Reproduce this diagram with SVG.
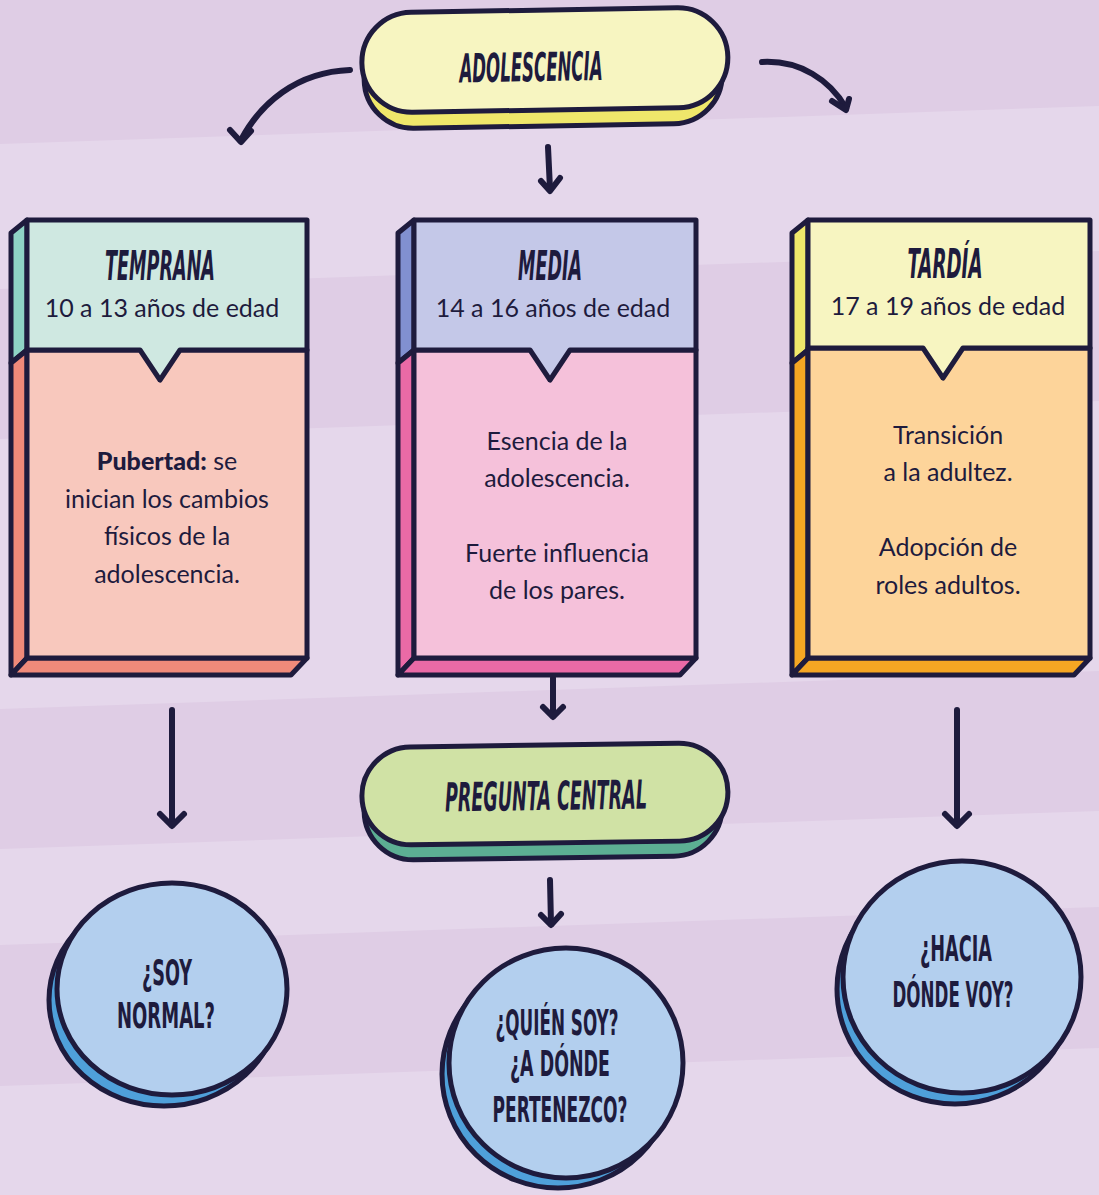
<svg xmlns="http://www.w3.org/2000/svg" width="1099" height="1195" viewBox="0 0 1099 1195">
<defs>
<style>
.ttl{font-family:"Liberation Sans Narrow","DejaVu Sans Condensed","Liberation Sans",sans-serif;font-weight:bold;font-style:italic;font-size:40px;fill:#1e1b3d;text-anchor:middle}
.ctl{font-family:"Liberation Sans Narrow","DejaVu Sans Condensed","Liberation Sans",sans-serif;font-weight:bold;font-size:36px;fill:#1e1b3d;text-anchor:middle}
.body{font-family:Lato,"Noto Sans",sans-serif;font-size:25px;fill:#1e1b3d;text-anchor:middle}
.sub{font-family:Lato,"Noto Sans",sans-serif;font-size:25px;fill:#1e1b3d;text-anchor:middle}
.ol{stroke:#1e1b3d;stroke-width:5;stroke-linejoin:round;stroke-linecap:round}
.arr{fill:none;stroke:#1e1b3d;stroke-width:6;stroke-linecap:round;stroke-linejoin:round}
</style>
</defs>
<g id="background">
<rect x="0" y="0" width="1099" height="1195" fill="#dfcde5"/>
<polygon points="0,144 1099,106 1099,251 0,289" fill="#e5d7eb"/>
<polygon points="0,439 1099,401 1099,671 0,709" fill="#e5d7eb"/>
<polygon points="0,849 1099,811 1099,907 0,945" fill="#e5d7eb"/>
<polygon points="0,1086 1099,1048 1099,1195 0,1195" fill="#e5d7eb"/>
</g>
<g id="connectors">
<path class="arr" d="M350,70 C296,72 260,104 241,140"/>
<path class="arr" d="M230,130 L241,142 L251,131"/>
<path class="arr" d="M762,62 C800,60 830,80 846,108"/>
<path class="arr" d="M832,101 L846,110 L849,99"/>
<path class="arr" d="M548,147 L550,189"/>
<path class="arr" d="M541,181 L550,191 L560,178"/>
<path class="arr" d="M172,710 L172,825"/>
<path class="arr" d="M160,814 L172,826 L184,814"/>
<path class="arr" d="M553,678 L553,716"/>
<path class="arr" d="M543,707 L553,717 L563,707"/>
<path class="arr" d="M957,710 L957,825"/>
<path class="arr" d="M945,814 L957,826 L969,814"/>
<path class="arr" d="M550,880 L551,924"/>
<path class="arr" d="M541,915 L551,925 L561,914"/>
</g>
<g id="adolescencia" transform="rotate(-1 545 68)">
<rect class="ol" x="364" y="28" width="358" height="98" rx="49" fill="#efe76b"/>
<rect class="ol" x="362" y="10" width="366" height="100" rx="50" fill="#f7f5c1"/>
<text class="ttl" x="531" y="81" textLength="143" lengthAdjust="spacingAndGlyphs">ADOLESCENCIA</text>
</g>
<g id="temprana" transform="translate(27,220)">
<polygon class="ol" points="0,0 -16,13 -16,143 0,130" fill="#8fd3c5"/>
<polygon class="ol" points="0,130 -16,143 -16,455 0,438" fill="#f08a7a"/>
<polygon class="ol" points="0,438 280,438 264,455 -16,455" fill="#f08a7a"/>
<rect class="ol" x="0" y="130" width="280" height="308" fill="#f8c8bd"/>
<path class="ol" d="M0,0 H280 V130 H153 L133,160 L113,130 H0 Z" fill="#cfe8e1"/>
<text class="ttl" x="133" y="60" textLength="110" lengthAdjust="spacingAndGlyphs">TEMPRANA</text>
<text class="sub" x="135" y="97">10 a 13 años de edad</text>
<text class="body" x="140" y="250"><tspan font-weight="900">Pubertad:</tspan> se</text>
<text class="body" x="140" y="288">inician los cambios</text>
<text class="body" x="140" y="325">físicos de la</text>
<text class="body" x="140" y="363">adolescencia.</text>
</g>
<g id="media" transform="translate(414,220)">
<polygon class="ol" points="0,0 -16,13 -16,143 0,130" fill="#8190d0"/>
<polygon class="ol" points="0,130 -16,143 -16,455 0,438" fill="#ea6aa6"/>
<polygon class="ol" points="0,438 282,438 266,455 -16,455" fill="#ea6aa6"/>
<rect class="ol" x="0" y="130" width="282" height="308" fill="#f5c1da"/>
<path class="ol" d="M0,0 H282 V130 H156 L136,160 L116,130 H0 Z" fill="#c4c8e8"/>
<text class="ttl" x="136" y="60" textLength="64" lengthAdjust="spacingAndGlyphs">MEDIA</text>
<text class="sub" x="139" y="97">14 a 16 años de edad</text>
<text class="body" x="143" y="230">Esencia de la</text>
<text class="body" x="143" y="267">adolescencia.</text>
<text class="body" x="143" y="342">Fuerte influencia</text>
<text class="body" x="143" y="379">de los pares.</text>
</g>
<g id="tardia" transform="translate(808,220)">
<polygon class="ol" points="0,0 -16,13 -16,143 0,130" fill="#efe76b"/>
<polygon class="ol" points="0,130 -16,143 -16,455 0,438" fill="#f5a623"/>
<polygon class="ol" points="0,438 282,438 266,455 -16,455" fill="#f5a623"/>
<rect class="ol" x="0" y="128" width="282" height="310" fill="#fdd49a"/>
<path class="ol" d="M0,0 H282 V128 H155 L135,158 L115,128 H0 Z" fill="#f7f5c1"/>
<text class="ttl" x="137" y="58" textLength="75" lengthAdjust="spacingAndGlyphs">TARDÍA</text>
<text class="sub" x="140" y="95">17 a 19 años de edad</text>
<text class="body" x="140" y="224">Transición</text>
<text class="body" x="140" y="261">a la adultez.</text>
<text class="body" x="140" y="336">Adopción de</text>
<text class="body" x="140" y="374">roles adultos.</text>
</g>
<g id="pregunta-central" transform="rotate(-0.8 545 800)">
<rect class="ol" x="364" y="760" width="358" height="98" rx="49" fill="#5cae93"/>
<rect class="ol" x="362" y="745" width="366" height="98" rx="49" fill="#d0e2a5"/>
<text class="ttl" x="546" y="810" textLength="202" lengthAdjust="spacingAndGlyphs">PREGUNTA CENTRAL</text>
</g>
<g id="soy-normal">
<ellipse class="ol" cx="164" cy="1000" rx="115" ry="106" fill="#4fa0da" stroke-width="6"/>
<ellipse class="ol" cx="172" cy="989" rx="115" ry="106" fill="#b3cfee" stroke-width="6"/>
<text class="ctl" x="167" y="985" textLength="50" lengthAdjust="spacingAndGlyphs">¿SOY</text>
<text class="ctl" x="166" y="1028" textLength="98" lengthAdjust="spacingAndGlyphs">NORMAL?</text>
</g>
<g id="quien-soy">
<ellipse class="ol" cx="558" cy="1074" rx="116" ry="114" fill="#4fa0da" stroke-width="6"/>
<ellipse class="ol" cx="566" cy="1063" rx="117" ry="115" fill="#b3cfee" stroke-width="6"/>
<text class="ctl" x="557" y="1035" textLength="123" lengthAdjust="spacingAndGlyphs">¿QUIÉN SOY?</text>
<text class="ctl" x="560" y="1076" textLength="100" lengthAdjust="spacingAndGlyphs">¿A DÓNDE</text>
<text class="ctl" x="560" y="1122" textLength="135" lengthAdjust="spacingAndGlyphs">PERTENEZCO?</text>
</g>
<g id="hacia-donde">
<ellipse class="ol" cx="955" cy="989" rx="118" ry="115" fill="#4fa0da" stroke-width="6"/>
<ellipse class="ol" cx="962" cy="977" rx="119" ry="116" fill="#b3cfee" stroke-width="6"/>
<text class="ctl" x="956" y="961" textLength="72" lengthAdjust="spacingAndGlyphs">¿HACIA</text>
<text class="ctl" x="953" y="1007" textLength="121" lengthAdjust="spacingAndGlyphs">DÓNDE VOY?</text>
</g>
</svg>
